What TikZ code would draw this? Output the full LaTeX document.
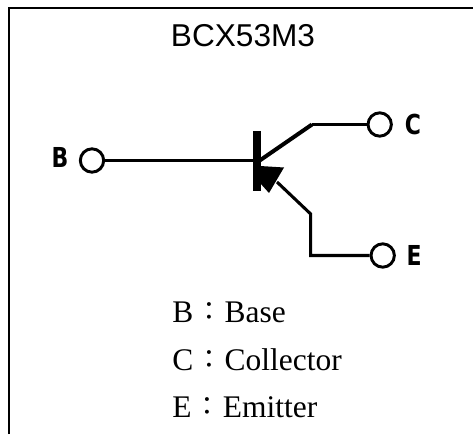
\documentclass[tikz,border=0pt]{standalone}
\usepackage{graphicx}
\usepackage{fontspec}
\setmainfont{Liberation Serif}
\setsansfont{Liberation Sans}
\newfontfamily\cjkfont{Noto Sans CJK TC}
\newfontfamily\pinfont{DejaVu Sans}[BoldFont={DejaVu Sans Bold}]
\newcommand{\widecolon}{\makebox[1em]{\raisebox{.06em}{\scalebox{.82}{\cjkfont ：}}}}
\tikzset{
  wire/.style={line width=2.3pt,line join=miter},
  thickwire/.style={line width=3pt},
  term/.style={circle,draw,line width=2.2pt,fill=white,minimum size=17.5pt,inner sep=0pt},
  pinlabel/.style={font=\pinfont\bfseries\fontsize{20.6}{21}\selectfont,xscale=.8,inner sep=0pt},
  legend/.style={anchor=base west,inner sep=0pt,font=\fontsize{23.6}{28}\selectfont},
  title/.style={anchor=base,inner sep=0pt,font=\sffamily\fontsize{23.7}{28}\selectfont},
}
\begin{document}
\begin{tikzpicture}[x=0.75pt,y=-0.75pt]
\useasboundingbox (0,0) rectangle (473,434);
\draw[line width=1.9pt] (9,434) -- (9,8) -- (473,8);
\node[title] (t) at (243,46.7) {BCX53M3};
% terminals
\node[term] (b) at (92,160.5) {};
\node[term] (c) at (379.7,124.5) {};
\node[term] (e) at (382.7,255.5) {};
% transistor
\coordinate (bar1) at (256.7,131);
\coordinate (bar2) at (256.7,191);
\coordinate (cj) at (259,161);
\coordinate (ck) at (312,124.5);
\coordinate (ep) at (277,182);
\coordinate (ek) at (310.7,214);
\coordinate (el) at (310.7,255.5);
\draw[wire] (b) -- (bar1 |- b);
\draw[line width=6pt] (bar1) -- (bar2);
\draw[thickwire] (cj) -- (ck);
\draw[wire] (ck) -- (c);
\draw[wire] (ep) -- (ek) -- (el) -- (e);
\fill (260,166) -- (284,167.5) -- (269,193) -- (260,183) -- cycle;
% pin labels
\node[pinlabel] (lb) at (60,157) {B};
\node[pinlabel] (lc) at (413,125) {C};
\node[pinlabel] (le) at (414,255) {E};
% legend
\node[legend] (l1) at (172,322) {B\widecolon Base};
\node[legend] (l2) at (172,370) {C\widecolon Collector};
\node[legend] (l3) at (172,417) {E\widecolon Emitter};
\end{tikzpicture}
\end{document}
